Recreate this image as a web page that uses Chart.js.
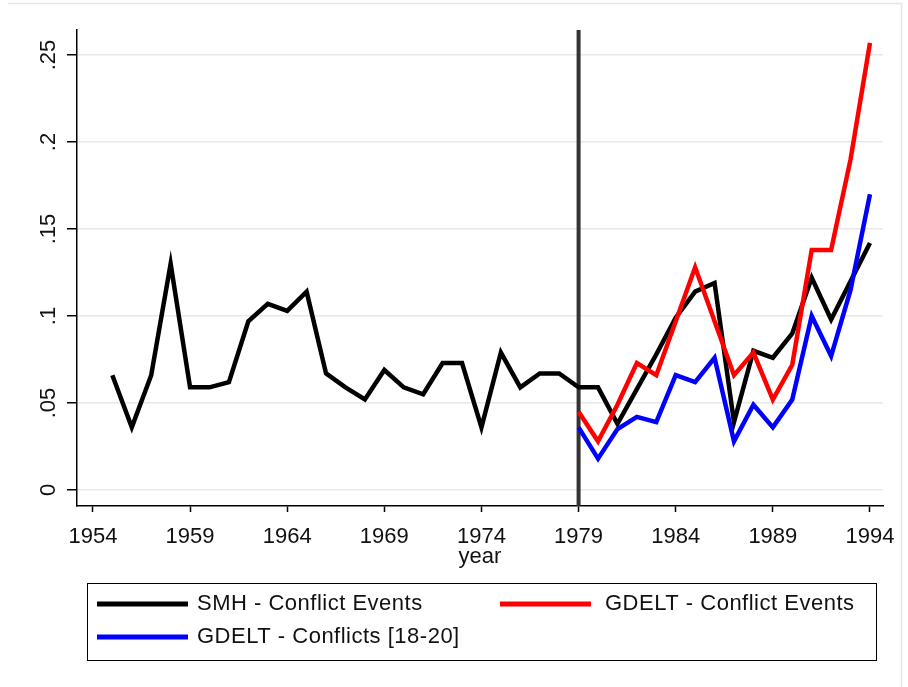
<!DOCTYPE html>
<html>
<head>
<meta charset="utf-8">
<script src="https://cdn.jsdelivr.net/npm/chart.js@4.4.1/dist/chart.umd.min.js"></script>
<style>
html,body{margin:0;padding:0;background:#ffffff;}
canvas{display:block;}
</style>
</head>
<body>
<canvas id="c" width="908" height="687"></canvas>
<script>
// ---------------- DATA ----------------
const seriesNames = ["SMH - Conflict Events", "GDELT - Conflict Events", "GDELT - Conflicts [18-20]"];
const smhYears = [1955,1956,1957,1958,1959,1960,1961,1962,1963,1964,1965,1966,1967,1968,1969,1970,1971,1972,1973,1974,
                  1975,1976,1977,1978,1979,1980,1981,1982,1983,1984,1985,1986,1987,1988,1989,1990,1991,1992,1993,1994];
const smhValues = [0.066,0.036,0.066,0.130,0.059,0.059,0.062,0.097,0.107,0.103,0.114,0.067,0.059,0.052,0.069,0.059,0.055,0.073,0.073,0.036,
                   0.079,0.059,0.067,0.067,0.059,0.059,0.038,0.058,0.078,0.099,0.114,0.119,0.039,0.080,0.076,0.090,0.122,0.098,0.120,0.142];
const gdeltYears = [1979,1980,1981,1982,1983,1984,1985,1986,1987,1988,1989,1990,1991,1992,1993,1994];
const gdeltEvents = [0.045,0.028,0.049,0.073,0.066,0.097,0.128,0.097,0.066,0.079,0.052,0.072,0.138,0.138,0.190,0.257];
const gdeltConflicts = [0.036,0.018,0.035,0.042,0.039,0.066,0.062,0.076,0.028,0.049,0.036,0.052,0.100,0.077,0.115,0.170];
const markerYear = 1979;
const xTicks = [1954,1959,1964,1969,1974,1979,1984,1989,1994];
const yTicks = [0,0.05,0.1,0.15,0.2,0.25];
const yTickLabels = ["0",".05",".1",".15",".2",".25"];
const xTitle = "year";

// ---------------- STYLE ----------------
const FONT = '"Liberation Sans", Arial, sans-serif';
const colors = ["#000000", "#ff0000", "#0000ff"];
const toPts = (xs, ys) => xs.map((x, i) => ({x: x, y: ys[i]}));

const decor = {
  id: 'decor',
  beforeDatasetsDraw(chart) {
    const {ctx, chartArea, scales} = chart;
    const x = scales.x.getPixelForValue(markerYear);
    ctx.save();
    ctx.strokeStyle = '#333333';
    ctx.lineWidth = 4;
    ctx.beginPath();
    ctx.moveTo(x, chartArea.top);
    ctx.lineTo(x, chartArea.bottom);
    ctx.stroke();
    ctx.restore();
  },
  afterDraw(chart) {
    const {ctx} = chart;
    ctx.save();
    // faint outer frame (top & right)
    ctx.strokeStyle = '#e6e6e6';
    ctx.lineWidth = 1.5;
    ctx.beginPath();
    ctx.moveTo(8, 3.5); ctx.lineTo(901.5, 3.5); ctx.lineTo(901.5, 687);
    ctx.stroke();
    // legend box
    const bx = 87.5, by = 583.5, bw = 789, bh = 77;
    ctx.strokeStyle = '#000';
    ctx.lineWidth = 1;
    ctx.strokeRect(bx, by, bw, bh);
    const slots = [
      {sx: 97, tx: 197, y: 604},
      {sx: 500, tx: 605, y: 604},
      {sx: 97, tx: 197, y: 637}
    ];
    ctx.font = '22px ' + FONT;
    ctx.textBaseline = 'middle';
    ctx.textAlign = 'left';
    if ('letterSpacing' in ctx) ctx.letterSpacing = '0.5px';
    chart.data.datasets.forEach((ds, i) => {
      const s = slots[i];
      ctx.fillStyle = ds.borderColor;
      ctx.fillRect(s.sx, s.y - 2.5, 91, 5);
      ctx.fillStyle = '#111';
      ctx.fillText(ds.label, s.tx, s.y);
    });
    ctx.restore();
  }
};

new Chart(document.getElementById('c'), {
  type: 'line',
  data: {
    datasets: [
      {label: seriesNames[0], data: toPts(smhYears, smhValues), borderColor: colors[0], order: 3},
      {label: seriesNames[1], data: toPts(gdeltYears, gdeltEvents), borderColor: colors[1], order: 2},
      {label: seriesNames[2], data: toPts(gdeltYears, gdeltConflicts), borderColor: colors[2], order: 1}
    ]
  },
  options: {
    responsive: false,
    animation: false,
    devicePixelRatio: 1,
    layout: {padding: {left: 0, right: 25, top: 30, bottom: 117}},
    elements: {
      line: {borderWidth: 4.5, tension: 0, fill: false, borderJoinStyle: 'miter', borderCapStyle: 'butt'},
      point: {radius: 0, hoverRadius: 0}
    },
    plugins: {legend: {display: false}, tooltip: {enabled: false}},
    scales: {
      x: {
        type: 'linear',
        position: 'bottom',
        min: 1953.18,
        max: 1994.67,
        afterBuildTicks: (s) => { s.ticks = xTicks.map(v => ({value: v})); },
        afterFit: (s) => { s.height = 64; },
        grid: {drawOnChartArea: false, drawTicks: true, tickLength: 6, tickColor: '#000', tickWidth: 1.5},
        border: {display: true, color: '#000', width: 1.5},
        ticks: {
          autoSkip: false, maxRotation: 0, minRotation: 0, padding: 12,
          color: '#111', font: {family: FONT, size: 22},
          callback: (v) => String(v)
        },
        title: {display: true, text: xTitle, color: '#111', font: {family: FONT, size: 22}, padding: {top: 0, bottom: 0}}
      },
      y: {
        type: 'linear',
        position: 'left',
        min: -0.0092,
        max: 0.2644,
        afterBuildTicks: (s) => { s.ticks = yTicks.map(v => ({value: v})); },
        afterFit: (s) => { s.width = 77; },
        grid: {color: '#e8e8e8', lineWidth: 1.5, drawTicks: true, tickLength: 10, tickColor: '#000', tickWidth: 1.5},
        border: {display: true, color: '#000', width: 1.5},
        ticks: {
          autoSkip: false, minRotation: 90, maxRotation: 90, padding: 3, crossAlign: 'center',
          color: '#111', font: {family: FONT, size: 22},
          callback: (v, i) => yTickLabels[i]
        }
      }
    }
  },
  plugins: [decor]
});
</script>
</body>
</html>
